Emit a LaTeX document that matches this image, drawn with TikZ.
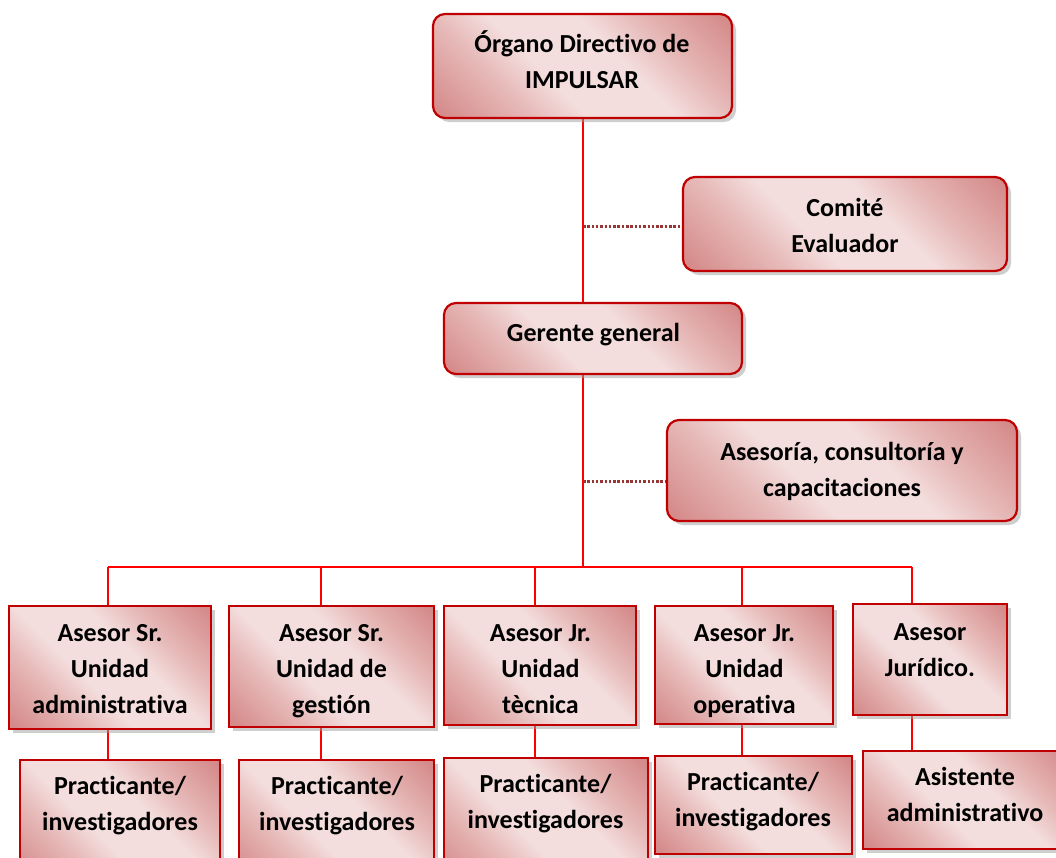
\documentclass[tikz,border=0pt]{standalone}
\usepackage{fontspec}
\setmainfont{Carlito}[Ligatures={NoCommon,NoDiscretionary,NoRare}]
\usetikzlibrary{shadows,backgrounds,calc}
\definecolor{dk}{RGB}{212,138,137}
\definecolor{md}{RGB}{230,185,184}
\definecolor{lt}{RGB}{243,222,221}
\definecolor{bord}{RGB}{192,0,0}
\definecolor{conn}{RGB}{255,0,0}
\definecolor{dotc}{RGB}{150,55,53}
\pgfdeclarehorizontalshading{pinkdiag}{100bp}{color(0bp)=(dk); color(16bp)=(dk); color(32bp)=(md); color(42bp)=(lt); color(58bp)=(lt); color(68bp)=(md); color(84bp)=(dk); color(100bp)=(dk)}
\newcommand\brk{\\\strut}
\newcommand\orgbox[9]{%
  \node[#2, minimum width={#5-#3}, minimum height={#6-#4}] (#1) at ({(#3+#5)/2},{(#4+#6)/2}) {};
  \node[lbl] (#1-t) at (#7,#8) {\strut #9};
}
\begin{document}
\begin{tikzpicture}[x=1pt,y=-1pt,
  box/.style={draw=bord, line width=2.2pt, shading=pinkdiag, shading angle=45, inner sep=0pt,
    drop shadow={shadow xshift=4pt, shadow yshift=-4pt, fill=black!38, draw=none}},
  rbox/.style={box, rounded corners=12pt},
  lbl/.style={font=\bfseries\fontsize{26}{36}\selectfont, align=center, inner sep=0pt, text=black},
  link/.style={draw=conn, line width=1.5pt},
  dotl/.style={draw=dotc, line width=3pt, dash pattern=on 2.5pt off 1.8pt}]
\useasboundingbox (0,0) rectangle (1056,857);
\clip (0,0) rectangle (1056,857);

\orgbox{top}{rbox}{433}{14}{732}{118}{582}{63.5}{Órgano Directivo de\brk IMPULSAR}
\orgbox{com}{rbox}{683}{177}{1007}{271}{845}{227.5}{Comité\brk Evaluador}
\orgbox{ger}{rbox}{444}{303}{742}{374}{593.5}{334}{Gerente general}
\orgbox{ase}{rbox}{667}{420}{1017}{521}{842}{471}{Asesoría, consultoría y\brk capacitaciones}

\orgbox{b1}{box}{9}{606}{211}{729}{110}{670}{Asesor Sr.\brk Unidad\brk administrativa}
\orgbox{b2}{box}{229}{606}{434}{727}{331.5}{670}{Asesor Sr.\brk Unidad de\brk gestión}
\orgbox{b3}{box}{444}{606}{636}{725}{540.5}{670}{Asesor Jr.\brk Unidad\brk tècnica}
\orgbox{b4}{box}{655}{606}{833}{724}{744.5}{670}{Asesor Jr.\brk Unidad\brk operativa}
\orgbox{b5}{box}{853}{604}{1007}{715}{930}{651}{Asesor\brk Jurídico.}

\orgbox{p1}{box}{20}{760}{220}{880}{120}{805.5}{Practicante/\brk investigadores}
\orgbox{p2}{box}{239}{760}{434}{880}{337}{805.5}{Practicante/\brk investigadores}
\orgbox{p3}{box}{444}{758}{648}{880}{545.5}{803.5}{Practicante/\brk investigadores}
\orgbox{p4}{box}{655}{756}{852}{854}{753}{801}{Practicante/\brk investigadores}
\orgbox{p5}{box}{863}{751}{1070}{849}{965}{796.5}{Asistente\brk administrativo}

\begin{pgfonlayer}{background}
\fill[white] (0,0) rectangle (1056,857);
\coordinate (bus) at (583,567);
\coordinate (k1) at (583,226);
\coordinate (k2) at (583,481);
\coordinate (d1) at (108,567);
\coordinate (d2) at (321,567);
\coordinate (d3) at (535,567);
\coordinate (d4) at (742,567);
\coordinate (d5) at (912,567);
\draw[link] (bus |- top.south) -- (bus);
\draw[link] (d1) -- (d5);
\foreach \i in {1,...,5}{
  \draw[link] (d\i) -- (d\i |- b\i.north);
  \draw[link] (d\i |- b\i.south) -- (d\i |- p\i.north);
}
\draw[dotl] (k1) -- (k1 -| com.west);
\draw[dotl] (k2) -- (k2 -| ase.west);
\end{pgfonlayer}
\end{tikzpicture}
\end{document}
